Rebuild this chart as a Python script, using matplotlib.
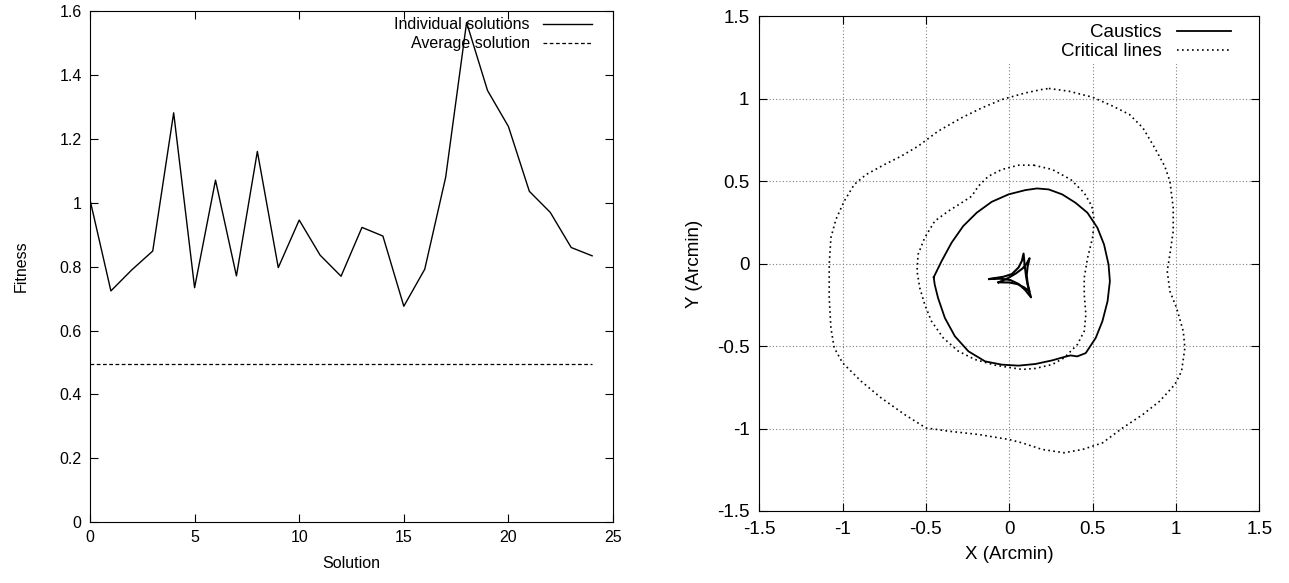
import numpy as np
from matplotlib import pyplot as plt
from matplotlib.patches import Rectangle
from matplotlib.ticker import FormatStrFormatter, MultipleLocator

plt.rcParams['font.family'] = ['Liberation Sans', 'DejaVu Sans']

# fitness of each solution and the average
solution = np.arange(25)
fitness = [1.01, 0.724, 0.79, 0.849, 1.282, 0.734, 1.071, 0.771, 1.161, 0.797,
           0.946, 0.836, 0.770, 0.923, 0.896, 0.676, 0.792, 1.080, 1.565, 1.352,
           1.239, 1.036, 0.970, 0.860, 0.834]
avg_fitness = 0.496

# outer critical line (arcmin)
crit_out_x = [0.238, 0.359, 0.500, 0.621, 0.722, 0.802, 0.873, 0.933, 0.964, 0.984,
              0.984, 0.964, 0.948, 0.964, 1.004, 1.044, 1.054, 1.034, 0.994, 0.903,
              0.802, 0.681, 0.560, 0.440, 0.329, 0.198, 0.077, 0.0, -0.185, -0.366,
              -0.501, -0.628, -0.769, -0.889, -1.0, -1.050, -1.070, -1.080, -1.080,
              -1.070, -1.040, -0.990, -0.930, -0.859, -0.748, -0.648, -0.547, -0.427,
              -0.286, -0.165, -0.044, 0.097, 0.197, 0.238]
crit_out_y = [1.061, 1.044, 1.008, 0.954, 0.903, 0.822, 0.701, 0.590, 0.499, 0.337,
              0.196, 0.055, -0.046, -0.168, -0.269, -0.410, -0.511, -0.653, -0.733,
              -0.834, -0.915, -0.996, -1.087, -1.127, -1.147, -1.127, -1.087, -1.067,
              -1.036, -1.016, -0.996, -0.915, -0.814, -0.713, -0.602, -0.511, -0.390,
              -0.208, -0.006, 0.156, 0.267, 0.378, 0.479, 0.539, 0.600, 0.651, 0.711,
              0.802, 0.883, 0.943, 0.994, 1.034, 1.055, 1.061]

# inner critical line
crit_in_x = [0.147, 0.258, 0.369, 0.450, 0.496, 0.510, 0.500, 0.470, 0.450, 0.450,
             0.460, 0.450, 0.409, 0.329, 0.258, 0.157, 0.077, 0.0, -0.085, -0.205,
             -0.306, -0.396, -0.467, -0.507, -0.537, -0.553, -0.547, -0.507, -0.447,
             -0.366, -0.286, -0.225, -0.185, -0.125, -0.044, 0.056, 0.147]
crit_in_y = [0.596, 0.570, 0.509, 0.428, 0.347, 0.257, 0.156, 0.034, -0.087, -0.188,
             -0.309, -0.410, -0.491, -0.572, -0.612, -0.636, -0.642, -0.630, -0.616,
             -0.582, -0.531, -0.451, -0.349, -0.248, -0.147, -0.046, 0.055, 0.156,
             0.257, 0.317, 0.368, 0.408, 0.469, 0.529, 0.570, 0.596, 0.596]

# outer caustic
caus_out_x = [-0.453, -0.406, -0.346, -0.276, -0.195, -0.105, -0.004, 0.097, 0.167,
              0.237, 0.318, 0.398, 0.469, 0.529, 0.569, 0.596, 0.604, 0.590, 0.559,
              0.519, 0.459, 0.408, 0.368, 0.328, 0.258, 0.157, 0.056, -0.044, -0.145,
              -0.245, -0.326, -0.386, -0.427, -0.447, -0.453]
caus_out_y = [-0.083, 0.014, 0.126, 0.227, 0.308, 0.374, 0.419, 0.445, 0.455, 0.449,
              0.419, 0.368, 0.308, 0.217, 0.115, -0.006, -0.107, -0.229, -0.350,
              -0.451, -0.543, -0.563, -0.557, -0.567, -0.587, -0.609, -0.619, -0.613,
              -0.593, -0.532, -0.441, -0.330, -0.209, -0.128, -0.083]

# small central caustic, two close deltoids
caus_a_x = [-0.120, -0.034, 0.016, 0.056, 0.076, 0.086, 0.092, 0.102, 0.116, 0.131,
            0.096, 0.056, 0.006, -0.054, -0.120]
caus_a_y = [-0.094, -0.080, -0.064, -0.024, 0.016, 0.060, -0.004, -0.084, -0.155, -0.205,
            -0.161, -0.124, -0.100, -0.092, -0.094]
caus_b_x = [-0.064, -0.010, 0.040, 0.080, 0.105, 0.122, 0.110, 0.105, 0.110, 0.122,
            0.090, 0.050, 0.0, -0.064]
caus_b_y = [-0.114, -0.090, -0.060, -0.030, 0.0, 0.032, -0.020, -0.070, -0.120, -0.170,
            -0.145, -0.125, -0.115, -0.114]

fig = plt.figure(figsize=(12.89, 5.83), dpi=100)

# ---- fitness panel
ax = fig.add_axes([0.0698, 0.1046, 0.4058, 0.876])
ax.plot(solution, fitness, color='k', lw=1.0, label='Individual solutions')
ax.plot([solution[0], solution[-1]], [avg_fitness, avg_fitness], color='k', lw=0.9,
        ls=(0, (3, 2)), label='Average solution')
ax.set_xlim(0, 25)
ax.set_ylim(0, 1.6)
ax.xaxis.set_major_locator(MultipleLocator(5))
ax.yaxis.set_major_locator(MultipleLocator(0.2))
ax.yaxis.set_major_formatter(FormatStrFormatter('%g'))
ax.tick_params(direction='in', length=6, top=True, right=True, labelsize=11.5, pad=6)
ax.set_xlabel('Solution', fontsize=11.5, labelpad=8)
ax.set_ylabel('Fitness', fontsize=11.5, labelpad=22)
ax.legend(loc='upper right', bbox_to_anchor=(0.96, 0.988), frameon=False, markerfirst=False,
          fontsize=11.5, handlelength=3.1, handletextpad=0.8, labelspacing=0.25,
          borderpad=0, borderaxespad=0)

# ---- caustics panel
ax2 = fig.add_axes([0.589, 0.1235, 0.3879, 0.849])
ax2.plot(caus_out_x, caus_out_y, color='k', lw=1.3, label='Caustics', zorder=3)
ax2.plot(caus_a_x, caus_a_y, color='k', lw=1.5, zorder=3)
ax2.plot(caus_b_x, caus_b_y, color='k', lw=1.5, zorder=3)
ax2.plot(crit_out_x, crit_out_y, color='k', lw=1.2, ls=(0, (1, 2)), label='Critical lines',
         zorder=3)
ax2.plot(crit_in_x, crit_in_y, color='k', lw=1.2, ls=(0, (1, 2)), zorder=3)
ax2.set_xlim(-1.5, 1.5)
ax2.set_ylim(-1.5, 1.5)
ax2.xaxis.set_major_locator(MultipleLocator(0.5))
ax2.yaxis.set_major_locator(MultipleLocator(0.5))
ax2.xaxis.set_major_formatter(FormatStrFormatter('%g'))
ax2.yaxis.set_major_formatter(FormatStrFormatter('%g'))
ax2.grid(True, color='#808080', lw=0.8, ls=(0, (1, 2)), zorder=1)
ax2.set_axisbelow(True)
# blank area behind the key
ax2.add_patch(Rectangle((0.48, 0.904), 0.52, 0.096, transform=ax2.transAxes,
                        facecolor='white', edgecolor='none', zorder=2))
ax2.tick_params(direction='in', length=6, top=True, right=True, labelsize=13.5, pad=7)
ax2.set_xlabel('X (Arcmin)', fontsize=13.5, labelpad=6)
ax2.set_ylabel('Y (Arcmin)', fontsize=13.5, labelpad=10)
ax2.legend(loc='upper right', bbox_to_anchor=(0.944, 0.984), frameon=False, markerfirst=False,
           fontsize=13.5, handlelength=2.9, handletextpad=0.8, labelspacing=0.1,
           borderpad=0, borderaxespad=0)

fig.savefig('out.png', dpi=100)
